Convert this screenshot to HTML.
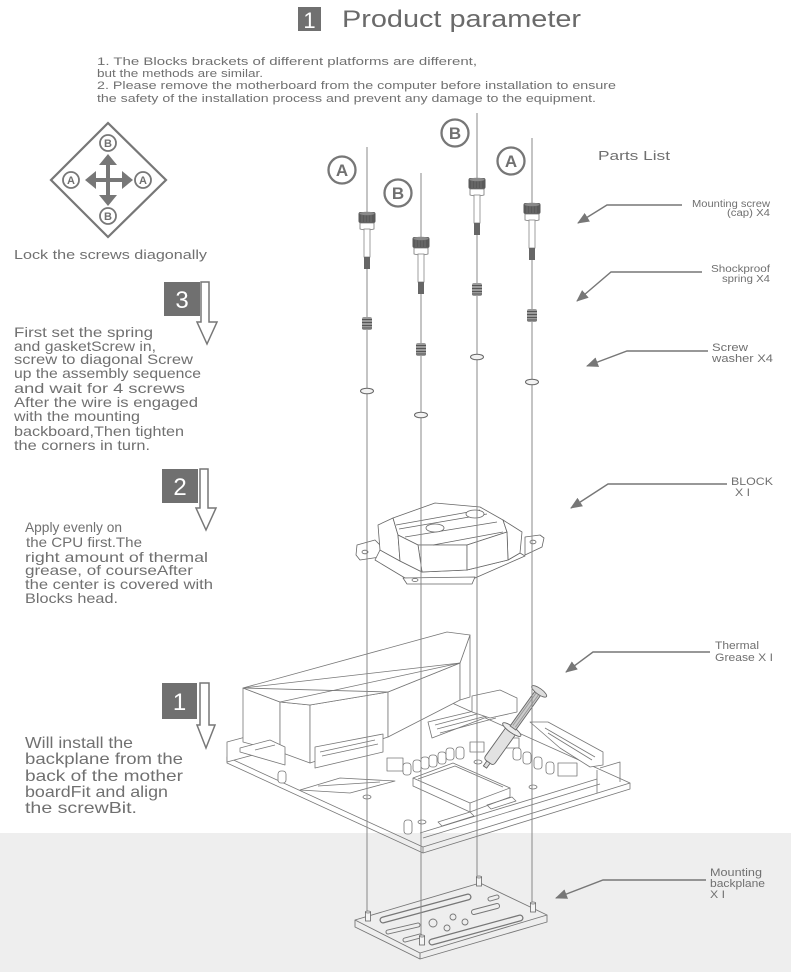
<!DOCTYPE html>
<html><head><meta charset="utf-8"><style>
html,body{margin:0;padding:0;background:#fff;}
svg{display:block;}
text{font-family:"Liberation Sans",sans-serif;fill:#707070;}
</style></head><body>
<svg width="791" height="972" viewBox="0 0 791 972" xmlns="http://www.w3.org/2000/svg">
<defs>
<marker id="ah" viewBox="0 0 12 10" refX="11" refY="5" markerWidth="12" markerHeight="10" markerUnits="userSpaceOnUse" orient="auto"><path d="M0,0 L12,5 L0,10 Z" fill="#777"/></marker>
</defs>
<rect x="0" y="0" width="791" height="972" fill="#fff"/>
<rect x="0" y="833" width="791" height="139" fill="#eeeeee"/>

<!-- Title -->
<rect x="298" y="7" width="23" height="24" fill="#707070"/>
<text x="309.5" y="28" font-size="22" text-anchor="middle" style="fill:#fff">1</text>
<text x="342" y="27" font-size="24" textLength="239" lengthAdjust="spacingAndGlyphs" style="fill:#6a6a6a">Product parameter</text>

<!-- Notes -->
<g font-size="11">
<text x="97" y="65" textLength="380" lengthAdjust="spacingAndGlyphs">1. The Blocks  brackets of different platforms are different,</text>
<text x="97" y="77" textLength="166" lengthAdjust="spacingAndGlyphs">but the methods are similar.</text>
<text x="97" y="89" textLength="519" lengthAdjust="spacingAndGlyphs">2. Please remove the motherboard from the computer before installation to ensure</text>
<text x="97" y="102" textLength="499" lengthAdjust="spacingAndGlyphs">the safety of the installation process and prevent any damage to the equipment.</text>
</g>

<!-- Diamond diagram -->
<polygon points="108,123 166,180 108,237 51,180" fill="none" stroke="#777" stroke-width="2.2"/>
<rect x="106" y="162" width="4" height="36" fill="#777"/>
<polygon points="108,154 99,165 117,165" fill="#777"/>
<polygon points="108,206 99,195 117,195" fill="#777"/>
<rect x="93" y="178" width="32" height="4" fill="#777"/>
<polygon points="85,180 96,171 96,189" fill="#777"/>
<polygon points="133,180 122,171 122,189" fill="#777"/>
<g stroke="#777" stroke-width="1.8" fill="#fff">
<circle cx="108" cy="143" r="8"/><circle cx="108" cy="216" r="8"/>
<circle cx="71" cy="180" r="8"/><circle cx="143" cy="180" r="8"/>
</g>
<g font-size="11" font-weight="bold" text-anchor="middle">
<text x="108" y="147">B</text><text x="108" y="220">B</text>
<text x="71" y="184">A</text><text x="143" y="184">A</text>
</g>
<text x="14" y="259" font-size="13" textLength="193" lengthAdjust="spacingAndGlyphs">Lock the screws diagonally</text>

<!-- Step 3 -->
<rect x="164" y="282" width="36" height="34" fill="#707070"/>
<text x="182" y="308" font-size="24" text-anchor="middle" style="fill:#fff">3</text>
<path d="M201,282 H209 V322 H217 L207,344 L197,322 H201 Z" fill="#fff" stroke="#777" stroke-width="1.5"/>
<g font-size="14">
<text x="14" y="337" textLength="139" lengthAdjust="spacingAndGlyphs">First set the spring</text>
<text x="14" y="351" textLength="142" lengthAdjust="spacingAndGlyphs">and gasketScrew in,</text>
<text x="14" y="364" textLength="179" lengthAdjust="spacingAndGlyphs">screw to diagonal Screw</text>
<text x="14" y="378" textLength="187" lengthAdjust="spacingAndGlyphs">up the assembly sequence</text>
<text x="14" y="393" textLength="171" lengthAdjust="spacingAndGlyphs">and wait for 4 screws</text>
<text x="14" y="407" textLength="184" lengthAdjust="spacingAndGlyphs">After the wire is engaged</text>
<text x="14" y="421" textLength="126" lengthAdjust="spacingAndGlyphs">with the mounting</text>
<text x="14" y="436" textLength="170" lengthAdjust="spacingAndGlyphs">backboard,Then tighten</text>
<text x="14" y="450" textLength="136" lengthAdjust="spacingAndGlyphs">the corners in turn.</text>
</g>

<!-- Step 2 -->
<rect x="162" y="469" width="36" height="34" fill="#707070"/>
<text x="180" y="495" font-size="24" text-anchor="middle" style="fill:#fff">2</text>
<path d="M200,469 H208 V508 H216 L206,530 L196,508 H200 Z" fill="#fff" stroke="#777" stroke-width="1.5"/>
<g font-size="14">
<text x="25" y="532" textLength="97" lengthAdjust="spacingAndGlyphs">Apply evenly on</text>
<text x="26" y="547" textLength="116" lengthAdjust="spacingAndGlyphs">the CPU first.The</text>
<text x="25" y="562" textLength="183" lengthAdjust="spacingAndGlyphs">right amount of thermal</text>
<text x="25" y="575" textLength="168" lengthAdjust="spacingAndGlyphs">grease, of courseAfter</text>
<text x="25" y="589" textLength="188" lengthAdjust="spacingAndGlyphs">the center is covered with</text>
<text x="25" y="603" textLength="93" lengthAdjust="spacingAndGlyphs">Blocks  head.</text>
</g>

<!-- Step 1 -->
<rect x="162" y="683" width="35" height="36" fill="#707070"/>
<text x="179.5" y="710" font-size="24" text-anchor="middle" style="fill:#fff">1</text>
<path d="M200,683 H209 V725 H215 L206,748 L197,725 H200 Z" fill="#fff" stroke="#777" stroke-width="1.5"/>
<g font-size="16">
<text x="25" y="748" textLength="108" lengthAdjust="spacingAndGlyphs">Will install the</text>
<text x="25" y="764" textLength="158" lengthAdjust="spacingAndGlyphs">backplane from the</text>
<text x="25" y="781" textLength="158" lengthAdjust="spacingAndGlyphs">back of the mother</text>
<text x="25" y="797" textLength="143" lengthAdjust="spacingAndGlyphs">boardFit and align</text>
<text x="25" y="813" textLength="112" lengthAdjust="spacingAndGlyphs">the screwBit.</text>
</g>

<!-- Parts list -->
<text x="598" y="160" font-size="13" textLength="72" lengthAdjust="spacingAndGlyphs">Parts List</text>
<g font-size="10">
<text x="692" y="207" textLength="78" lengthAdjust="spacingAndGlyphs">Mounting screw</text>
<text x="727" y="216" textLength="43" lengthAdjust="spacingAndGlyphs">(cap) X4</text>
<text x="711" y="272" textLength="59" lengthAdjust="spacingAndGlyphs">Shockproof</text>
<text x="722" y="282" textLength="48" lengthAdjust="spacingAndGlyphs">spring X4</text>
<text x="712" y="351" font-size="11" textLength="36" lengthAdjust="spacingAndGlyphs">Screw</text>
<text x="712" y="362" font-size="11" textLength="61" lengthAdjust="spacingAndGlyphs">washer X4</text>
<text x="731" y="485" font-size="11" textLength="42" lengthAdjust="spacingAndGlyphs">BLOCK</text>
<text x="735" y="496" font-size="11" textLength="15" lengthAdjust="spacingAndGlyphs">X I</text>
<text x="715" y="649" font-size="11" textLength="44" lengthAdjust="spacingAndGlyphs">Thermal</text>
<text x="715" y="661" font-size="11" textLength="58" lengthAdjust="spacingAndGlyphs">Grease X I</text>
<text x="710" y="876" font-size="11" textLength="52" lengthAdjust="spacingAndGlyphs">Mounting</text>
<text x="710" y="887" font-size="11" textLength="55" lengthAdjust="spacingAndGlyphs">backplane</text>
<text x="710" y="898" font-size="11" textLength="15" lengthAdjust="spacingAndGlyphs">X I</text>
</g>
<g fill="none" stroke="#777" stroke-width="1.4" marker-end="url(#ah)">
<polyline points="682,205 607,205 578,223"/>
<polyline points="702,272 611,272 577,301"/>
<polyline points="708,351 627,351 587,366"/>
<polyline points="727,484 608,484 571,508"/>
<polyline points="710,652 593,652 566,672"/>
<polyline points="706,880 603,880 556,898"/>
</g>

<!-- Motherboard -->
<g fill="none" stroke="#777" stroke-width="0.8" stroke-linejoin="round">
<polygon points="227,757 432,694 630,783 423,847"/>
<polyline points="227,757 227,763 423,853 630,789 630,783"/>
<line x1="423" y1="847" x2="423" y2="853"/>
<polygon points="227,742 253,735 253,755 227,762" fill="#fff"/>
<polyline points="420,833 597,779"/><polyline points="423,838 600,784"/>
<polyline points="597,770 597,793"/><polyline points="600,768 620,762 620,782"/>
<!-- heatsink -->
<polygon points="243,688 280,702 280,752 243,742" fill="#fff"/>
<polygon points="280,702 310,705 310,763 280,752" fill="#fff"/>
<polygon points="310,705 388,692 388,737 310,763" fill="#fff"/>
<polygon points="388,692 460,663 460,700 388,737" fill="#fff"/>
<polygon points="460,663 470,635 470,697 460,700" fill="#fff"/>
<polygon points="243,688 447,632 470,635 460,663 388,692 310,705 280,702" fill="#fff"/>
<line x1="243" y1="688" x2="460" y2="663"/>
<line x1="243" y1="688" x2="388" y2="692"/>
<line x1="280" y1="702" x2="460" y2="663"/>
<polygon points="240,748 270,740 285,747 285,765 240,752" fill="#fff"/>
<polygon points="315,747 383,734 383,752 315,768" fill="#fff"/>
<path d="M255,750 L275,745 M320,752 L375,740 M322,756 L378,744"/>
<!-- right-hand heatsink & io -->
<polygon points="428,722 495,706 500,712 432,738" fill="#fff"/>
<path d="M435,725 L492,710 M437,729 L494,714 M440,733 L496,718"/>
<polygon points="472,696 500,690 517,698 517,712 490,718 472,712" fill="#fff"/>
<polygon points="530,722 548,722 603,752 603,765 590,767 560,748" fill="#fff"/>
<path d="M545,728 L595,757 M548,733 L592,760"/>
<!-- chokes -->
<rect x="387" y="758" width="16" height="13" fill="#fff"/>
<rect x="558" y="763" width="19" height="13" fill="#fff"/>
<rect x="470" y="742" width="14" height="10" fill="#fff"/>
<rect x="505" y="738" width="14" height="10" fill="#fff"/>
<!-- caps -->
<g fill="#fff">
<rect x="403" y="763" width="8" height="12" rx="3"/><rect x="413" y="760" width="8" height="12" rx="3"/>
<rect x="421" y="757" width="8" height="12" rx="3"/><rect x="429" y="755" width="8" height="12" rx="3"/>
<rect x="438" y="752" width="8" height="12" rx="3"/><rect x="446" y="748" width="8" height="12" rx="3"/>
<rect x="456" y="747" width="8" height="12" rx="3"/>
<rect x="513" y="748" width="8" height="12" rx="3"/><rect x="523" y="752" width="8" height="12" rx="3"/>
<rect x="534" y="757" width="8" height="12" rx="3"/><rect x="546" y="762" width="8" height="12" rx="3"/>
<rect x="278" y="771" width="8" height="12" rx="3"/><rect x="404" y="820" width="8" height="14" rx="3"/>
</g>
<!-- CPU socket -->
<polygon points="413,778 453,763 510,788 470,803" fill="#fff"/>
<polyline points="413,778 413,786 470,812 510,797 510,788"/>
<line x1="470" y1="803" x2="470" y2="812"/>
<path d="M418,779 L455,766 L503,787"/>
<!-- misc small parts -->
<path d="M300,790 L340,778 L395,781 L350,793 Z M318,786 L380,782"/>
<path d="M438,822 L470,812 L474,816 L442,826 Z"/>
<path d="M487,805 L512,797 L516,801 L491,809 Z"/>
<ellipse cx="367" cy="797" rx="4" ry="2"/>
<ellipse cx="422" cy="822" rx="4" ry="2"/>
<ellipse cx="478" cy="762" rx="4" ry="2"/>
<ellipse cx="533" cy="787" rx="4" ry="2"/>
</g>
<!-- syringe -->
<g transform="translate(485,767) rotate(-54.4)" stroke="#666" stroke-width="0.9">
<rect x="0" y="-2" width="7" height="4" fill="#ddd"/>
<rect x="6" y="-6" width="40" height="12" rx="3" fill="#e2e2e2"/>
<ellipse cx="46" cy="0" rx="3" ry="11" fill="#eee"/>
<rect x="48" y="-3.5" width="44" height="7" fill="#ccc"/>
<path d="M50,-1.5 H90 M50,1.5 H90" stroke="#999"/>
<ellipse cx="93" cy="0" rx="3" ry="9" fill="#ddd"/>
</g>

<!-- Backplane -->
<g fill="none" stroke="#777" stroke-width="0.9" stroke-linejoin="round">
<polyline points="355,920 355,927 420,959 547,922 547,915"/>
<line x1="420" y1="953" x2="420" y2="959"/>
<polygon points="355,920 480,883 547,915 420,953"/>
<line x1="383" y1="920" x2="468" y2="897" stroke-width="7" stroke-linecap="round"/>
<line x1="383" y1="920" x2="468" y2="897" stroke="#eee" stroke-width="4.5" stroke-linecap="round"/>
<line x1="432" y1="942" x2="520" y2="918" stroke-width="7" stroke-linecap="round"/>
<line x1="432" y1="942" x2="520" y2="918" stroke="#eee" stroke-width="4.5" stroke-linecap="round"/>
<line x1="474" y1="912" x2="497" y2="906" stroke-width="6" stroke-linecap="round"/>
<line x1="474" y1="912" x2="497" y2="906" stroke="#eee" stroke-width="4" stroke-linecap="round"/>
<line x1="490" y1="899" x2="497" y2="897" stroke-width="5" stroke-linecap="round"/>
<line x1="490" y1="899" x2="497" y2="897" stroke="#eee" stroke-width="3" stroke-linecap="round"/>
<line x1="388" y1="932" x2="418" y2="925" stroke-width="5" stroke-linecap="round"/>
<line x1="388" y1="932" x2="418" y2="925" stroke="#eee" stroke-width="3" stroke-linecap="round"/>
<line x1="405" y1="940" x2="420" y2="936" stroke-width="5" stroke-linecap="round"/>
<line x1="405" y1="940" x2="420" y2="936" stroke="#eee" stroke-width="3" stroke-linecap="round"/>
<circle cx="453" cy="917" r="3"/><circle cx="433" cy="923" r="4"/>
<circle cx="465" cy="922" r="3"/><circle cx="447" cy="928" r="3"/>
</g>

<!-- Block -->
<g fill="#fff" stroke="#666" stroke-width="0.8" stroke-linejoin="round">
<polygon points="357,545 375,540 383,548 380,557 360,560 356,555"/>
<ellipse cx="365" cy="552" rx="3" ry="1.8"/>
<polygon points="525,537 540,535 544,538 542,547 525,555"/>
<ellipse cx="533" cy="542" rx="3" ry="1.8"/>
<polygon points="380,550 400,561 422,572 467,570 508,560 520,553 525,556 475,578 405,578 375,560"/>
<polygon points="403,578 475,577 472,584 407,584"/>
<ellipse cx="415" cy="580" rx="3" ry="1.5"/>
<polygon points="378,525 393,518 398,535 400,561 380,550"/>
<polygon points="393,518 435,503 480,507 503,520 507,532 467,545 418,545 398,535"/>
<polygon points="503,520 522,532 520,553 508,560 507,532"/>
<polygon points="418,545 467,545 467,570 422,572"/>
<polygon points="467,545 507,532 508,560 467,570"/>
<polygon points="398,535 418,545 422,572 400,561"/>
<path d="M396,525 L480,510 M399,529 L487,514 M405,537 L497,522 M433,545 L503,532" fill="none"/>
<ellipse cx="435" cy="528" rx="9" ry="4"/>
<ellipse cx="475" cy="514" rx="9" ry="4"/>
</g>

<!-- Vertical screw axes -->
<g stroke="#888" stroke-width="1">
<line x1="367" y1="147" x2="367" y2="919"/>
<line x1="421" y1="173" x2="421" y2="943"/>
<line x1="477" y1="113" x2="477" y2="884"/>
<line x1="532" y1="138" x2="532" y2="910"/>
</g>

<!-- Standoffs -->
<g fill="#f4f4f4" stroke="#666" stroke-width="0.8">
<rect x="365.5" y="912" width="5" height="9"/><ellipse cx="368" cy="912" rx="2.5" ry="1"/>
<rect x="476.5" y="877" width="5" height="9"/><ellipse cx="479" cy="877" rx="2.5" ry="1"/>
<rect x="530.5" y="903" width="5" height="9"/><ellipse cx="533" cy="903" rx="2.5" ry="1"/>
<rect x="419.5" y="936" width="5" height="9"/><ellipse cx="422" cy="936" rx="2.5" ry="1"/>
</g>

<!-- Screws -->
<g id="screws">
<g transform="translate(367,212)">
<rect x="-8.5" y="0" width="17" height="11" rx="2" fill="#5a5a5a"/><ellipse cx="0" cy="1.5" rx="7.5" ry="1.8" fill="#8a8a8a"/>
<path d="M-5,3 V10 M-2,3 V10 M1,3 V10 M4,3 V10" stroke="#707070" stroke-width="1"/>
<path d="M-7,11 H7 V17 Q0,19 -7,17 Z" fill="#fff" stroke="#777" stroke-width="0.8"/>
<rect x="-3" y="17" width="6" height="28" fill="#fff" stroke="#888" stroke-width="0.8"/>
<rect x="-3" y="45" width="6" height="12" fill="#666"/>
</g>
<g transform="translate(421,237)">
<rect x="-8.5" y="0" width="17" height="11" rx="2" fill="#5a5a5a"/><ellipse cx="0" cy="1.5" rx="7.5" ry="1.8" fill="#8a8a8a"/>
<path d="M-5,3 V10 M-2,3 V10 M1,3 V10 M4,3 V10" stroke="#707070" stroke-width="1"/>
<path d="M-7,11 H7 V17 Q0,19 -7,17 Z" fill="#fff" stroke="#777" stroke-width="0.8"/>
<rect x="-3" y="17" width="6" height="28" fill="#fff" stroke="#888" stroke-width="0.8"/>
<rect x="-3" y="45" width="6" height="12" fill="#666"/>
</g>
<g transform="translate(477,178)">
<rect x="-8.5" y="0" width="17" height="11" rx="2" fill="#5a5a5a"/><ellipse cx="0" cy="1.5" rx="7.5" ry="1.8" fill="#8a8a8a"/>
<path d="M-5,3 V10 M-2,3 V10 M1,3 V10 M4,3 V10" stroke="#707070" stroke-width="1"/>
<path d="M-7,11 H7 V17 Q0,19 -7,17 Z" fill="#fff" stroke="#777" stroke-width="0.8"/>
<rect x="-3" y="17" width="6" height="28" fill="#fff" stroke="#888" stroke-width="0.8"/>
<rect x="-3" y="45" width="6" height="12" fill="#666"/>
</g>
<g transform="translate(532,203)">
<rect x="-8.5" y="0" width="17" height="11" rx="2" fill="#5a5a5a"/><ellipse cx="0" cy="1.5" rx="7.5" ry="1.8" fill="#8a8a8a"/>
<path d="M-5,3 V10 M-2,3 V10 M1,3 V10 M4,3 V10" stroke="#707070" stroke-width="1"/>
<path d="M-7,11 H7 V17 Q0,19 -7,17 Z" fill="#fff" stroke="#777" stroke-width="0.8"/>
<rect x="-3" y="17" width="6" height="28" fill="#fff" stroke="#888" stroke-width="0.8"/>
<rect x="-3" y="45" width="6" height="12" fill="#666"/>
</g>
</g>

<!-- Springs -->
<g>
<g transform="translate(367,317)"><rect x="-5" y="0" width="10" height="13" rx="2" fill="#9a9a9a"/><path d="M-5,2.5 H5 M-5,5.5 H5 M-5,8.5 H5 M-5,11 H5" stroke="#555" stroke-width="1"/></g>
<g transform="translate(421,343)"><rect x="-5" y="0" width="10" height="13" rx="2" fill="#9a9a9a"/><path d="M-5,2.5 H5 M-5,5.5 H5 M-5,8.5 H5 M-5,11 H5" stroke="#555" stroke-width="1"/></g>
<g transform="translate(477,283)"><rect x="-5" y="0" width="10" height="13" rx="2" fill="#9a9a9a"/><path d="M-5,2.5 H5 M-5,5.5 H5 M-5,8.5 H5 M-5,11 H5" stroke="#555" stroke-width="1"/></g>
<g transform="translate(532,309)"><rect x="-5" y="0" width="10" height="13" rx="2" fill="#9a9a9a"/><path d="M-5,2.5 H5 M-5,5.5 H5 M-5,8.5 H5 M-5,11 H5" stroke="#555" stroke-width="1"/></g>
</g>

<!-- Washers -->
<g fill="#f2f2f2" stroke="#666" stroke-width="1">
<ellipse cx="367" cy="391" rx="6.5" ry="2.8"/>
<ellipse cx="421" cy="415" rx="6.5" ry="2.8"/>
<ellipse cx="477" cy="357" rx="6.5" ry="2.8"/>
<ellipse cx="532" cy="382" rx="6.5" ry="2.8"/>
</g>

<!-- Order labels -->
<g fill="#fff" stroke="#777" stroke-width="2.3">
<circle cx="342" cy="170" r="13.5"/>
<circle cx="398" cy="193" r="13.5"/>
<circle cx="455" cy="133" r="13.5"/>
<circle cx="511" cy="161" r="13.5"/>
</g>
<g font-size="17" font-weight="bold" text-anchor="middle">
<text x="342" y="176">A</text>
<text x="398" y="199">B</text>
<text x="455" y="139">B</text>
<text x="511" y="167">A</text>
</g>
</svg>
</body></html>
